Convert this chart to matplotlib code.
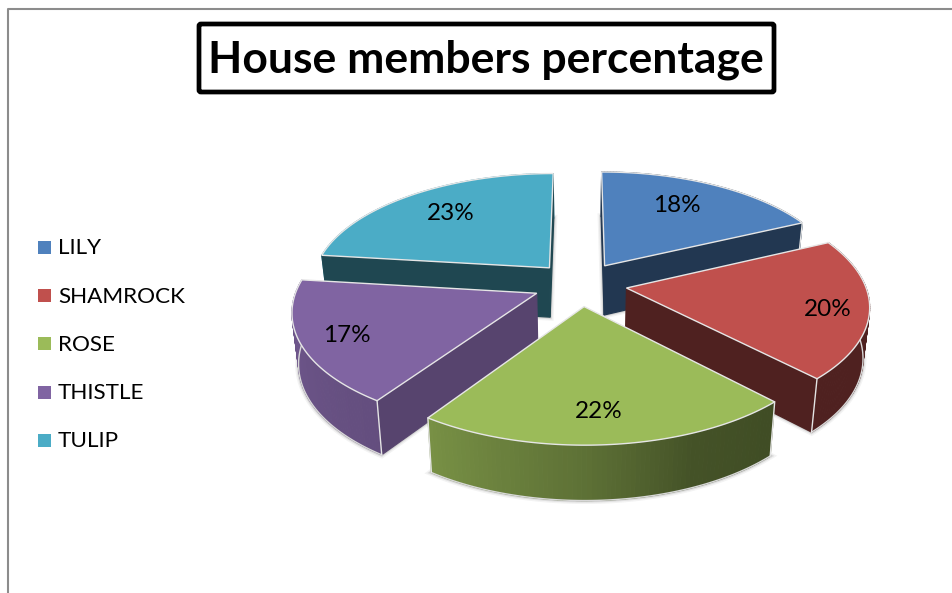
import matplotlib
matplotlib.use('Agg')
import matplotlib.pyplot as plt
from matplotlib.patches import FancyBboxPatch, Rectangle
import numpy as np

plt.rcParams['font.family'] = ['Lato', 'DejaVu Sans']

title = 'House members percentage'
houses = ['LILY', 'SHAMROCK', 'ROSE', 'THISTLE', 'TULIP']
percent = [18.0, 19.8, 21.7, 17.4, 23.1]
colors = ['#4F81BD', '#C0504D', '#9BBB59', '#8064A2', '#4BACC6']

# shading of the cut faces, one per slice
cut_shade = [0.43, 0.41, 0.41, 0.68, 0.41]
# where the percent labels sit, in figure pixels
label_xy = [(677, 205), (828, 309), (599, 411), (347, 335), (451, 213)]
# back to front
draw_order = [4, 0, 3, 1, 2]

# pie projection
cx, cy = 580, 284
a, b, p = 238.5, 111.9, 0.1416
explode = 0.197
shrink = 0.977


def project(X, Y, bottom=False):
    X = np.asarray(X, dtype=float)
    Y = np.asarray(Y, dtype=float)
    w = 1 + p * Y
    sx = cx + a * X / w
    sy = cy - b * Y / w
    if bottom:
        sx = cx + (sx - cx) * shrink
        sy = sy + 50 - 4.5 * Y
    return sx, sy


def arc_shade(theta):
    return np.interp(theta, [137, 158, 180, 216, 277], [0.41, 0.44, 0.6, 0.78, 0.88])


def draw_slice(ax, start, end, color, cut):
    rgb = np.array(matplotlib.colors.to_rgb(color))
    mid = np.radians((start + end) / 2)
    ex, ey = explode * np.sin(mid), explode * np.cos(mid)

    deg = np.linspace(start, end, 80)
    t = np.radians(deg)
    X = np.concatenate([[ex], ex + np.sin(t)])
    Y = np.concatenate([[ey], ey + np.cos(t)])
    top_x, top_y = project(X, Y)
    bot_x, bot_y = project(X, Y, bottom=True)

    # soft shadow round the lower part
    for lw, al in [(5, 0.07), (3, 0.12), (1.5, 0.2)]:
        ax.fill(bot_x, bot_y, facecolor='none', edgecolor='#555555', lw=lw, alpha=al, zorder=1)

    def strip(i, j, shade):
        c = rgb * shade
        ax.fill([top_x[i], top_x[j], bot_x[j], bot_x[i]],
                [top_y[i], top_y[j], bot_y[j], bot_y[i]],
                facecolor=c, edgecolor=c, lw=0.8, zorder=2)

    # back part of the rim first
    for i in range(1, len(deg)):
        if np.cos(t[i - 1]) > 0:
            strip(i, i + 1, arc_shade(deg[i]))

    # cut faces, skip the ones turned away
    faces = [(-np.sin(np.radians(end)), len(X) - 1), (np.sin(np.radians(start)), 1)]
    faces.sort(key=lambda f: -f[0])
    for normal, idx in faces:
        if normal < 0.02:
            strip(0, idx, cut)

    # front part of the rim
    for i in range(1, len(deg)):
        if np.cos(t[i - 1]) <= 0:
            strip(i, i + 1, arc_shade(deg[i]))

    front = np.cos(t) <= 0.05
    if front.any():
        ax.plot(bot_x[1:][front], bot_y[1:][front], color='#d8d8d8', lw=1, zorder=2)
    for idx in [1, len(X) - 1]:
        if np.cos(t[idx - 1]) < 0.5 and np.sin(t[idx - 1]) > -0.9:
            ax.plot([top_x[idx], bot_x[idx]], [top_y[idx], bot_y[idx]], color='#e4e4e4', lw=1, zorder=2)

    ax.fill(top_x, top_y, facecolor=color, edgecolor='#e6e6e6', lw=1, joinstyle='miter', zorder=2)


def main():
    fig = plt.figure(figsize=(9.52, 5.93), dpi=100)
    ax = fig.add_axes([0, 0, 1, 1])
    ax.set_xlim(0, 952)
    ax.set_ylim(593, 0)
    ax.axis('off')

    # chart area border
    ax.plot([8, 8, 952], [593, 9, 9], color='#8c8c8c', lw=1.5, zorder=0)

    # title box
    ax.add_patch(FancyBboxPatch((199, 24), 575, 68, boxstyle='round,pad=0,rounding_size=2',
                                facecolor='white', edgecolor='black', lw=3.4))
    ax.text(486, 60, title, fontsize=32, fontweight='bold', ha='center', va='center', color='black')

    bounds = np.concatenate([[0], np.cumsum(percent)]) / sum(percent) * 360
    for i in draw_order:
        draw_slice(ax, bounds[i], bounds[i + 1], colors[i], cut_shade[i])

    for i in range(len(percent)):
        ax.text(label_xy[i][0], label_xy[i][1], '%d%%' % round(percent[i]), fontsize=17.5,
                ha='center', va='center', color='black', zorder=5)

    # legend
    for i, name in enumerate(houses):
        y = 247.5 + i * 48.2
        ax.add_patch(Rectangle((38, y - 6.5), 13, 13, facecolor=colors[i], edgecolor='none'))
        ax.text(58, y + 1, name, fontsize=16.2, ha='left', va='center', color='black')

    fig.savefig('out.png', dpi=100)


if __name__ == '__main__':
    main()
